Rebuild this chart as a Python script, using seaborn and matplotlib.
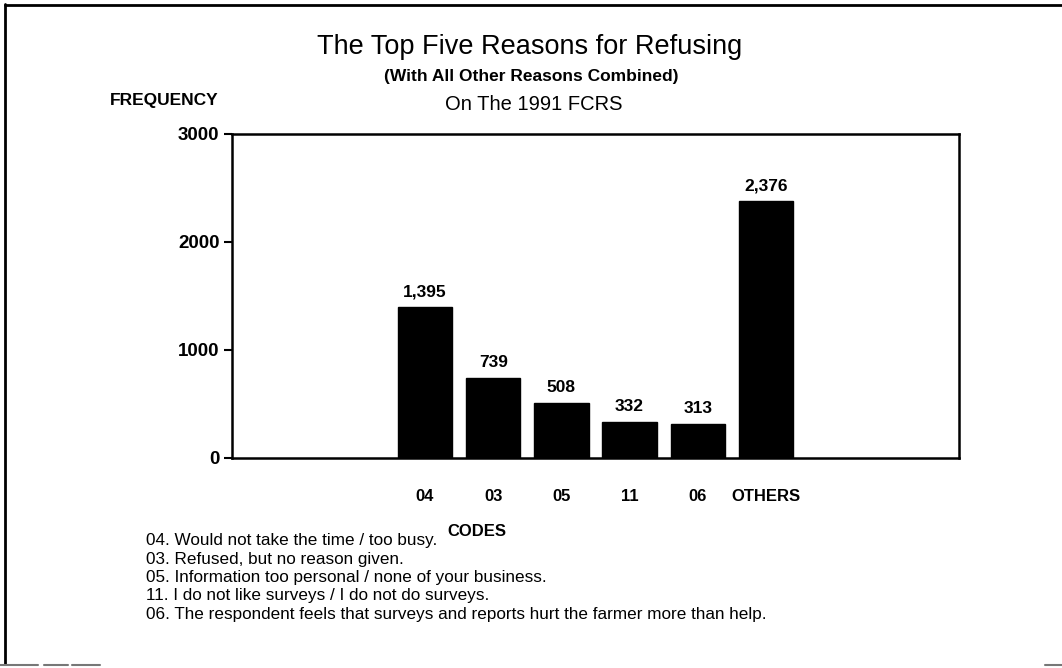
import matplotlib
matplotlib.use("Agg")
import matplotlib.pyplot as plt
from matplotlib.lines import Line2D
import seaborn as sns
import pandas as pd

# Refusal reason codes and their counts
codes = ["04", "03", "05", "11", "06", "OTHERS"]
counts = [1395, 739, 508, 332, 313, 2376]
value_labels = ["1,395", "739", "508", "332", "313", "2,376"]

title_lines = [
    "The Top Five Reasons for Refusing",
    "(With All Other Reasons Combined)",
    "On The 1991 FCRS",
]
code_notes = [
    "04. Would not take the time / too busy.",
    "03. Refused, but no reason given.",
    "05. Information too personal / none of your business.",
    "11. I do not like surveys / I do not do surveys.",
    "06. The respondent feels that surveys and reports hurt the farmer more than help.",
]
y_ticks = [0, 1000, 2000, 3000]

sns.set_theme(style="white")
plt.rcParams["font.family"] = ["Liberation Sans", "DejaVu Sans"]
plt.rcParams["text.color"] = "black"
plt.rcParams["xtick.color"] = "black"
plt.rcParams["ytick.color"] = "black"

df = pd.DataFrame({"code": codes, "count": counts})

W, H = 1062, 668
fig = plt.figure(figsize=(W / 100, H / 100), dpi=100)
fig.patch.set_facecolor("white")

ax = fig.add_axes([232 / W, 1 - 458 / H, (959 - 232) / W, (458 - 134) / H])
sns.barplot(data=df, x="code", y="count", order=codes, color="black",
            saturation=1, width=0.8, edgecolor="black", ax=ax)

ax.set_xlim(-2.83, 7.83)
ax.set_ylim(0, 3000)
ax.set_yticks(y_ticks)
ax.set_yticklabels([str(v) for v in y_ticks], fontsize=13.5, fontweight="bold")
ax.set_xticks(range(len(codes)))
ax.set_xticklabels(codes, fontsize=12, fontweight="bold")
ax.tick_params(axis="x", length=0, pad=22)
ax.tick_params(axis="y", length=6, width=1.5, direction="out", left=True, pad=3)
ax.set_xlabel("")
ax.set_ylabel("")
for s in ax.spines.values():
    s.set_visible(True)
    s.set_color("black")
    s.set_linewidth(1.8)

# Value labels above each bar
for i, (v, lab) in enumerate(zip(counts, value_labels)):
    ax.annotate(lab, (i, v), xytext=(0, 6), textcoords="offset points",
                ha="center", va="bottom", fontsize=12.5, fontweight="bold",
                color="black")

# Titles
fig.text(530 / W, 1 - 47 / H, title_lines[0], ha="center", va="center", fontsize=19.5)
fig.text(531 / W, 1 - 77 / H, title_lines[1], ha="center", va="center",
         fontsize=12.5, fontweight="bold")
fig.text(534 / W, 1 - 104 / H, title_lines[2], ha="center", va="center", fontsize=14.5)

# Axis captions
fig.text(110 / W, 1 - 100 / H, "FREQUENCY", ha="left", va="center",
         fontsize=12.5, fontweight="bold")
fig.text(477 / W, 1 - 532 / H, "CODES", ha="center", va="center",
         fontsize=12, fontweight="bold")

# Code descriptions
for k, note in enumerate(code_notes):
    fig.text(146 / W, 1 - (541 + 18.3 * k) / H, note, ha="left", va="center",
             fontsize=12.3)

# Page frame
fig.add_artist(Line2D([5 / W, 5 / W], [1 - 4 / H, 1 - 664 / H],
                      transform=fig.transFigure, color="black", lw=2))
fig.add_artist(Line2D([5 / W, 1], [1 - 5 / H, 1 - 5 / H],
                      transform=fig.transFigure, color="black", lw=2))
for x0, x1 in [(0, 38), (44, 68), (72, 100), (1045, 1062)]:
    fig.add_artist(Line2D([x0 / W, x1 / W], [1 - 665 / H, 1 - 665 / H],
                          transform=fig.transFigure, color="#777777", lw=1.5))

fig.savefig("out.png", dpi=100, facecolor="white")
